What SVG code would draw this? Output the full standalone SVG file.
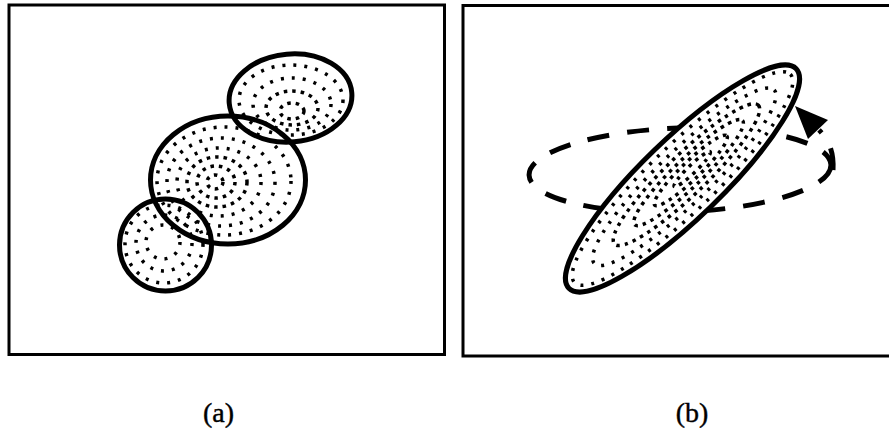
<svg xmlns="http://www.w3.org/2000/svg" width="889" height="433" viewBox="0 0 889 433">
<style>
.frame{fill:none;stroke:#000;stroke-width:3}
.outline{fill:none;stroke:#000;stroke-width:5}
.solid{fill:#fff;stroke:#000;stroke-width:5}
.dots{fill:none;stroke:#000;stroke-width:3.5;stroke-dasharray:3 8}
.dense{fill:none;stroke:#000;stroke-width:3.5;stroke-dasharray:3.5 5}
.dash{fill:none;stroke:#000;stroke-width:5;stroke-dasharray:22 18}
.lbl{font-family:"Liberation Serif","Times New Roman",serif;font-size:28px;text-anchor:middle;fill:#000;stroke:#000;stroke-width:0.4}
</style>
<rect width="889" height="433" fill="#fff"/>
<g id="panel-a">
  <rect class="frame" x="9" y="5" width="435.5" height="349.5"/>
  <g id="cluster-small">
    <circle class="dots" cx="164" cy="244" r="39"/>
    <circle class="dots" cx="164" cy="243" r="28"/>
    <circle class="dots" cx="163" cy="242" r="17"/>
    <circle class="outline" cx="165.5" cy="245" r="46"/>
  </g>
  <g id="cluster-middle">
    <ellipse class="dots" cx="224" cy="181" rx="67" ry="54"/>
    <ellipse class="dots" cx="221" cy="182" rx="54" ry="44"/>
    <ellipse class="dots" cx="219" cy="182" rx="42" ry="34"/>
    <ellipse class="dense" cx="217" cy="182" rx="30" ry="25"/>
    <ellipse class="dense" cx="216" cy="182" rx="19" ry="16"/>
    <ellipse class="dense" cx="215" cy="182" rx="8" ry="7"/>
    <ellipse class="outline" cx="228" cy="180" rx="77.5" ry="64"/>
  </g>
  <g id="cluster-top">
    <ellipse class="dots" cx="291" cy="100" rx="52" ry="35"/>
    <ellipse class="dots" cx="292" cy="104" rx="39" ry="26"/>
    <ellipse class="dense" cx="292" cy="108" rx="26" ry="17"/>
    <ellipse class="dense" cx="292" cy="111" rx="12" ry="8"/>
    <ellipse class="outline" cx="290.5" cy="98" rx="61.5" ry="44" transform="rotate(-5 290.5 98)"/>
  </g>
  <text class="lbl" x="218.5" y="422">(a)</text>
</g>
<g id="panel-b">
  <rect class="frame" x="463" y="5.5" width="432" height="350.5"/>
  <g id="dashed-ellipse">
    <ellipse class="dash" cx="680" cy="170" rx="151" ry="42" transform="rotate(-2 680 170)"/>
  </g>
  <g id="connectors">
    <path class="dash" d="M 833,170 C 834,152 829,140 819,130" stroke-dasharray="20 10"/>
    <polygon points="795,106 828,120 808,139" fill="#000"/>
  </g>
  <g id="solid-ellipse" transform="rotate(-44 682.5 178.5)">
    <ellipse class="solid" cx="682.5" cy="178.5" rx="158" ry="40"/>
    <ellipse class="dots" cx="682.5" cy="178.5" rx="150" ry="33"/>
    <ellipse class="dots" cx="685" cy="178.5" rx="125" ry="26"/>
    <ellipse class="dense" cx="688" cy="178.5" rx="100" ry="20"/>
    <ellipse class="dense" cx="691" cy="178.5" rx="75" ry="14"/>
    <ellipse class="dense" cx="694" cy="178.5" rx="50" ry="9"/>
    <ellipse class="dense" cx="696" cy="178.5" rx="25" ry="4"/>
  </g>
  <text class="lbl" x="692" y="422">(b)</text>
</g>
</svg>
